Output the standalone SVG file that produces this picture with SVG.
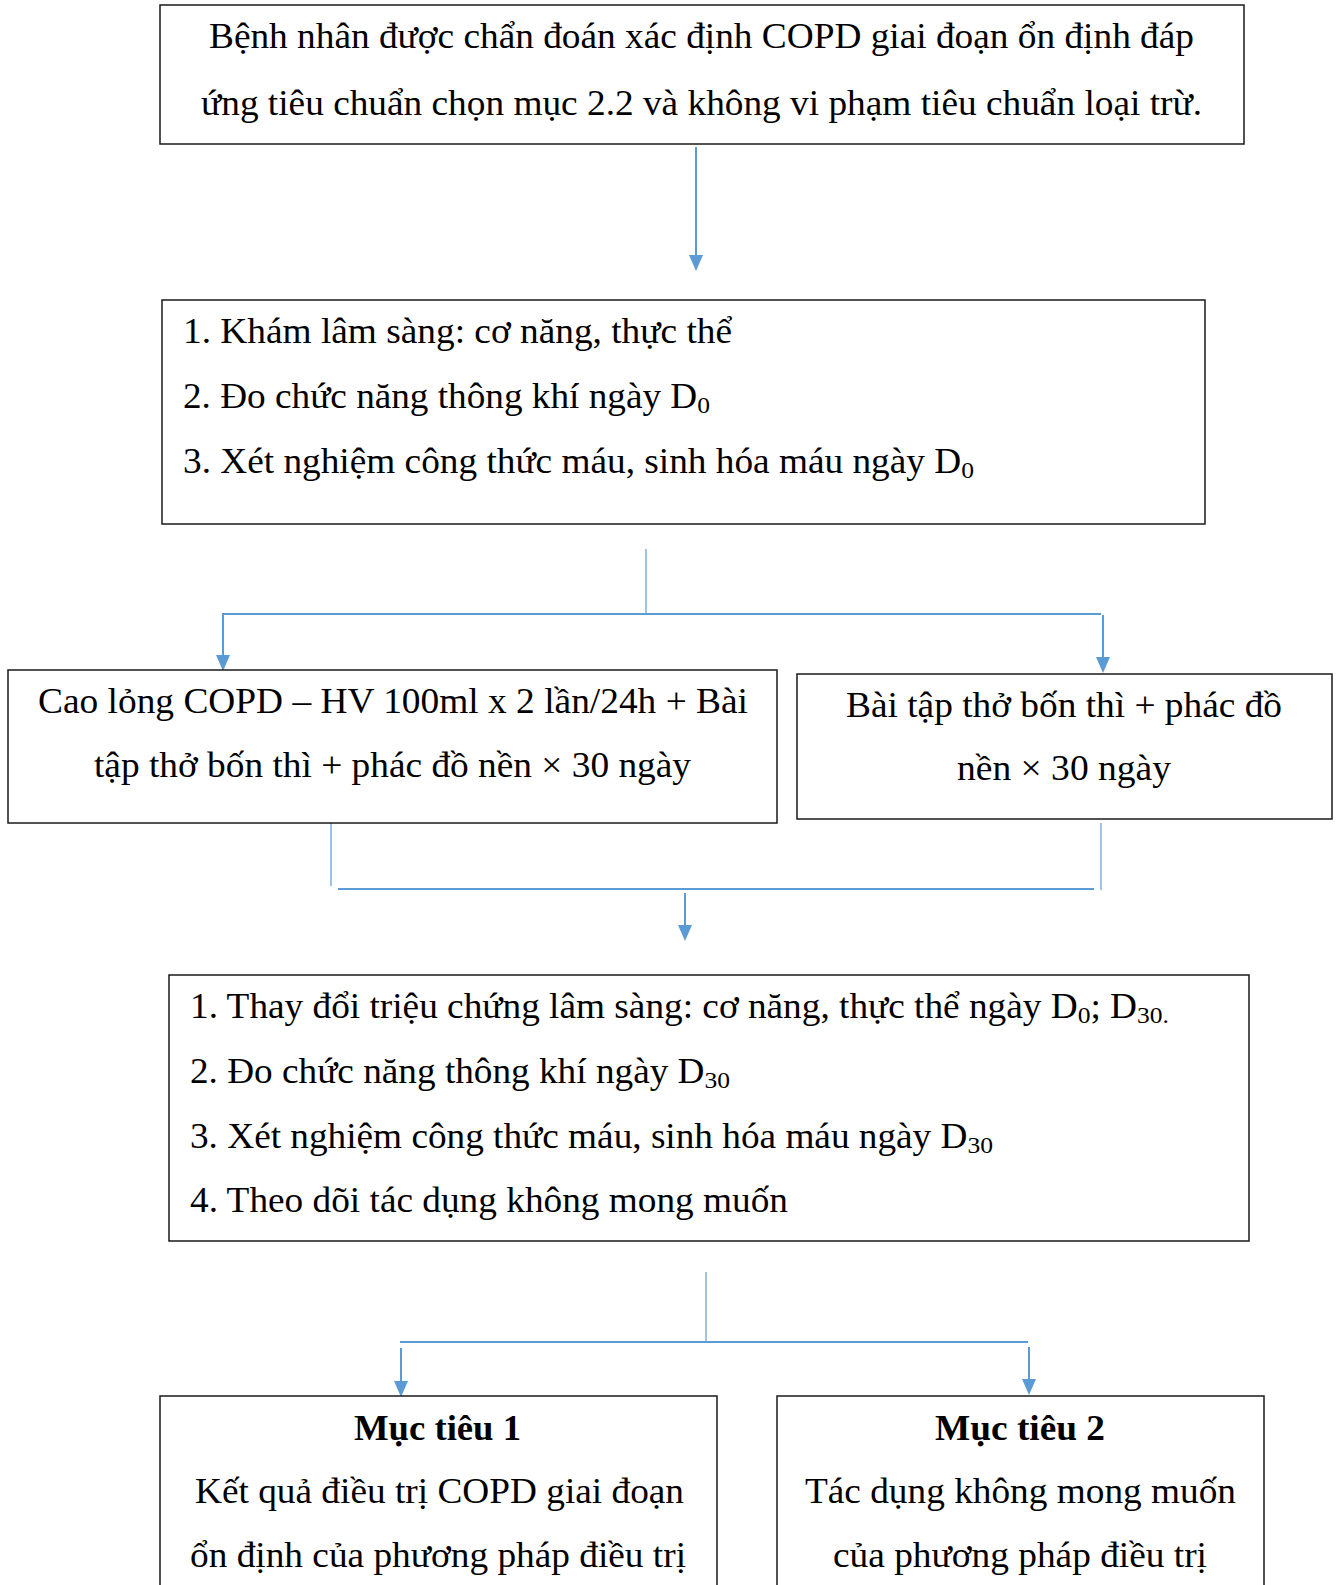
<svg xmlns="http://www.w3.org/2000/svg" width="1338" height="1585" viewBox="0 0 1338 1585">
<style>
.box{fill:#fff;stroke:#1a1a1a;stroke-width:1.5}
.t{font-family:"Liberation Serif","Times New Roman",serif;font-size:35px;fill:#000}
.c{text-anchor:middle}
.b{font-weight:bold}
.thin{stroke:#5B9BD5;stroke-width:1.2;fill:none}
.thick{stroke:#5B9BD5;stroke-width:2;fill:none}
.arr{stroke:#5B9BD5;stroke-width:2;fill:none;marker-end:url(#ah)}
</style>
<defs>
<marker id="ah" markerUnits="userSpaceOnUse" viewBox="0 0 16 14" refX="8" refY="7" markerWidth="16" markerHeight="14" orient="auto">
<path d="M0,0 L16,7 L0,14 z" fill="#5B9BD5"/>
</marker>
</defs>
<rect width="1338" height="1585" fill="#fff"/>
<g id="connectors">
<line class="arr" x1="696" y1="147" x2="696" y2="263"/>
<line class="thin" x1="646" y1="549" x2="646" y2="614"/>
<line class="thick" x1="222" y1="614" x2="1101" y2="614"/>
<line class="arr" x1="223" y1="615" x2="223" y2="663"/>
<line class="arr" x1="1103" y1="615" x2="1103" y2="665"/>
<line class="thin" x1="331" y1="820" x2="331" y2="886"/>
<line class="thin" x1="1101" y1="823" x2="1101" y2="890"/>
<line class="thick" x1="338" y1="889" x2="1094" y2="889"/>
<line class="arr" x1="685" y1="893" x2="685" y2="933"/>
<line class="thin" x1="706" y1="1272" x2="706" y2="1342"/>
<line class="thick" x1="400" y1="1342" x2="1028" y2="1342"/>
<line class="arr" x1="401" y1="1348" x2="401" y2="1389"/>
<line class="arr" x1="1029" y1="1347" x2="1029" y2="1387"/>
</g>
<g id="node1">
<rect class="box" x="160" y="5" width="1084" height="139"/>
<text class="t" x="209" y="48" textLength="985" lengthAdjust="spacingAndGlyphs">Bệnh nhân được chẩn đoán xác định COPD giai đoạn ổn định đáp</text>
<text class="t" x="201" y="115" textLength="1001" lengthAdjust="spacingAndGlyphs">ứng tiêu chuẩn chọn mục 2.2 và không vi phạm tiêu chuẩn loại trừ.</text>
</g>
<g id="node2">
<rect class="box" x="162" y="300" width="1043" height="224"/>
<text class="t" x="183" y="343" textLength="549" lengthAdjust="spacingAndGlyphs">1. Khám lâm sàng: cơ năng, thực thể</text>
<text class="t" x="183" y="408" textLength="527" lengthAdjust="spacingAndGlyphs">2. Đo chức năng thông khí ngày D<tspan font-size="24" dy="5">0</tspan></text>
<text class="t" x="183" y="473" textLength="791" lengthAdjust="spacingAndGlyphs">3. Xét nghiệm công thức máu, sinh hóa máu ngày D<tspan font-size="24" dy="5">0</tspan></text>
</g>
<g id="node3">
<rect class="box" x="8" y="670" width="769" height="153"/>
<text class="t" x="38" y="713" textLength="710" lengthAdjust="spacingAndGlyphs">Cao lỏng COPD – HV 100ml x 2 lần/24h + Bài</text>
<text class="t" x="94" y="777" textLength="597" lengthAdjust="spacingAndGlyphs">tập thở bốn thì + phác đồ nền × 30 ngày</text>
</g>
<g id="node4">
<rect class="box" x="797" y="674" width="535" height="145"/>
<text class="t" x="846" y="717" textLength="436" lengthAdjust="spacingAndGlyphs">Bài tập thở bốn thì + phác đồ</text>
<text class="t" x="957" y="780" textLength="214" lengthAdjust="spacingAndGlyphs">nền × 30 ngày</text>
</g>
<g id="node5">
<rect class="box" x="169" y="975" width="1080" height="266"/>
<text class="t" x="190" y="1018" textLength="979" lengthAdjust="spacingAndGlyphs">1. Thay đổi triệu chứng lâm sàng: cơ năng, thực thể ngày D<tspan font-size="24" dy="5">0</tspan><tspan dy="-5">; D</tspan><tspan font-size="24" dy="5">30.</tspan></text>
<text class="t" x="190" y="1083" textLength="540" lengthAdjust="spacingAndGlyphs">2. Đo chức năng thông khí ngày D<tspan font-size="24" dy="5">30</tspan></text>
<text class="t" x="190" y="1148" textLength="803" lengthAdjust="spacingAndGlyphs">3. Xét nghiệm công thức máu, sinh hóa máu ngày D<tspan font-size="24" dy="5">30</tspan></text>
<text class="t" x="190" y="1212" textLength="598" lengthAdjust="spacingAndGlyphs">4. Theo dõi tác dụng không mong muốn</text>
</g>
<g id="node6">
<rect class="box" x="160" y="1396" width="557" height="220"/>
<text class="t b" x="354" y="1440" textLength="167" lengthAdjust="spacingAndGlyphs">Mục tiêu 1</text>
<text class="t" x="195" y="1503" textLength="489" lengthAdjust="spacingAndGlyphs">Kết quả điều trị COPD giai đoạn</text>
<text class="t" x="190" y="1567" textLength="496" lengthAdjust="spacingAndGlyphs">ổn định của phương pháp điều trị</text>
</g>
<g id="node7">
<rect class="box" x="777" y="1396" width="487" height="220"/>
<text class="t b" x="935" y="1440" textLength="170" lengthAdjust="spacingAndGlyphs">Mục tiêu 2</text>
<text class="t" x="805" y="1503" textLength="431" lengthAdjust="spacingAndGlyphs">Tác dụng không mong muốn</text>
<text class="t" x="833" y="1567" textLength="374" lengthAdjust="spacingAndGlyphs">của phương pháp điều trị</text>
</g>
</svg>
